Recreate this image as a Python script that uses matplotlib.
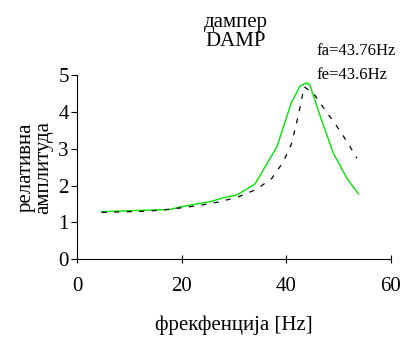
import matplotlib.pyplot as plt

# measured (green) and computed (dashed) response
freq_meas = [4.7, 17.8, 19.7, 25.4, 28.0, 30.5, 34.0, 38.2, 40.9, 42.6, 43.9, 44.5, 46.5, 49.0, 51.6, 53.8]
amp_meas = [1.29, 1.35, 1.42, 1.56, 1.67, 1.74, 2.04, 3.05, 4.23, 4.70, 4.79, 4.73, 3.87, 2.87, 2.19, 1.77]

freq_calc = [4.7, 12.4, 16.2, 19.7, 23.5, 27.3, 30.8, 34.2, 37.2, 39.4, 41.0, 42.3, 43.4, 45.2, 47.4, 49.5, 51.6, 53.5]
amp_calc = [1.27, 1.30, 1.33, 1.39, 1.46, 1.56, 1.69, 1.89, 2.19, 2.64, 3.14, 3.91, 4.68, 4.50, 4.05, 3.64, 3.19, 2.74]

plt.rcParams['font.family'] = ['Liberation Serif', 'DejaVu Serif']

fig = plt.figure(figsize=(4.06, 3.41), dpi=100)
ax = fig.add_axes([0.19, 0.24, 0.773, 0.54])

ax.plot(freq_meas, amp_meas, color='#00e600', lw=1.0)
ax.plot(freq_calc, amp_calc, color='black', lw=0.9, ls=(0, (4, 6)))

ax.set_xlim(0, 60)
ax.set_ylim(0, 5)
ax.set_xticks([0, 20, 40, 60])
ax.set_yticks([0, 1, 2, 3, 4, 5])
ax.spines['top'].set_visible(False)
ax.spines['right'].set_visible(False)
ax.tick_params(axis='x', direction='inout', length=6, labelsize=15, pad=10)
ax.tick_params(axis='y', direction='out', length=4, labelsize=15, pad=2)

ax.set_xlabel('фрекфенција [Hz]', fontsize=15, labelpad=14)
ax.set_ylabel('релативна\nамплитуда', fontsize=15, labelpad=4, linespacing=0.85)

fig.text(0.58, 0.905, 'дампер\nDAMP', ha='center', va='center', fontsize=15, linespacing=1.0)
fig.text(0.78, 0.85, 'fa=43.76Hz', ha='left', va='center', fontsize=12)
fig.text(0.78, 0.78, 'fe=43.6Hz', ha='left', va='center', fontsize=12)

fig.savefig('out.png', dpi=100)
